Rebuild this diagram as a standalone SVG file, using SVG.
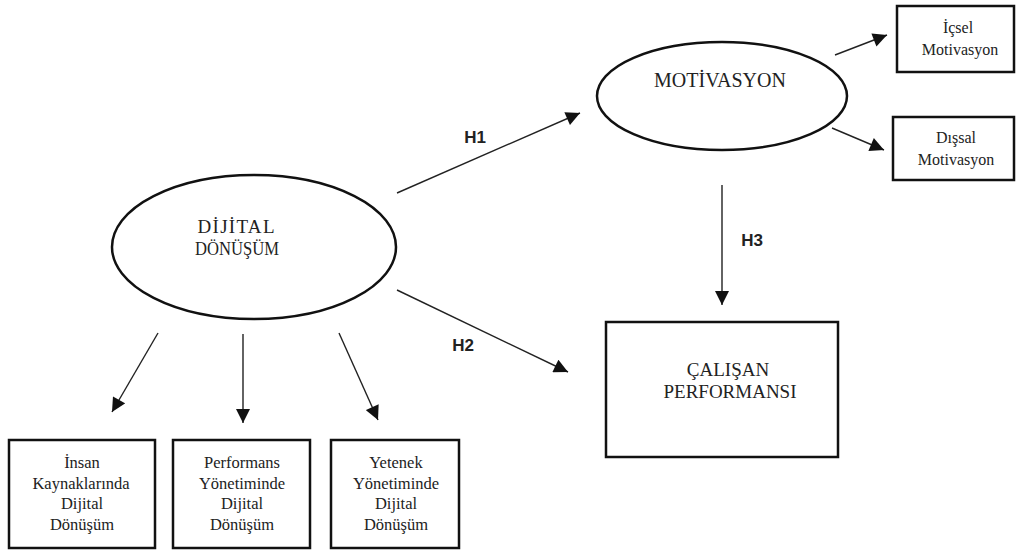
<svg xmlns="http://www.w3.org/2000/svg" width="1019" height="554" viewBox="0 0 1019 554">
<defs>
<marker id="ah" viewBox="0 0 10 10" refX="10" refY="5" markerWidth="16" markerHeight="14" markerUnits="userSpaceOnUse" orient="auto">
<path d="M0,0 L10,5 L0,10 z" fill="#111"/>
</marker>
<style>
.shape{fill:#fff;stroke:#111;stroke-width:2.5}
.t{fill:#222;text-anchor:middle}
.big{font-size:19px}
.sm{font-size:16.5px}
.xs{font-size:16px}
.lab{font-weight:bold;font-size:17px;fill:#222;text-anchor:middle}
.c{stroke:#222;stroke-width:1.4;fill:none;marker-end:url(#ah)}
</style>
</defs>
<rect width="1019" height="554" fill="#fff"/>
<g id="connectors">
<line class="c" x1="397" y1="193" x2="580" y2="113"/>
<line class="c" x1="397" y1="290" x2="568" y2="372"/>
<line class="c" x1="722" y1="185" x2="722" y2="305"/>
<line class="c" x1="835" y1="55" x2="887" y2="35"/>
<line class="c" x1="832" y1="128" x2="884" y2="150"/>
<line class="c" x1="158" y1="333" x2="112" y2="412"/>
<line class="c" x1="243" y1="334" x2="243" y2="423"/>
<line class="c" x1="339" y1="333" x2="378" y2="420"/>
<g font-family="'Liberation Sans', Arial, sans-serif">
<text class="lab" x="475" y="143">H1</text>
<text class="lab" x="463" y="351">H2</text>
<text class="lab" x="752" y="246">H3</text>
</g>
</g>
<g font-family="'Liberation Serif', 'Times New Roman', serif">
<g id="dijital">
<ellipse class="shape" cx="254" cy="247" rx="142" ry="72"/>
<text class="t big" x="236" y="233" textLength="77" lengthAdjust="spacing">DİJİTAL</text>
<text class="t big" x="237" y="255" textLength="84" lengthAdjust="spacingAndGlyphs">DÖNÜŞÜM</text>
</g>
<g id="motivasyon">
<ellipse class="shape" cx="722" cy="96" rx="125" ry="54"/>
<text class="t" font-size="20" x="720" y="87">MOTİVASYON</text>
</g>
<g id="icsel">
<rect class="shape" x="897" y="6" width="117" height="66"/>
<text class="t xs" x="958" y="33">İçsel</text>
<text class="t xs" x="960" y="55">Motivasyon</text>
</g>
<g id="dissal">
<rect class="shape" x="893" y="117" width="121" height="63"/>
<text class="t xs" x="956" y="143">Dışsal</text>
<text class="t xs" x="956" y="165">Motivasyon</text>
</g>
<g id="calisan">
<rect class="shape" x="606" y="322" width="232" height="135"/>
<text class="t big" x="728" y="376">ÇALIŞAN</text>
<text class="t big" x="730" y="398">PERFORMANSI</text>
</g>
<g id="ik">
<rect class="shape" x="9" y="440" width="146" height="108"/>
<text class="t sm" x="82" y="468">İnsan</text>
<text class="t sm" x="81" y="489">Kaynaklarında</text>
<text class="t sm" x="82" y="509">Dijital</text>
<text class="t sm" x="82" y="530">Dönüşüm</text>
</g>
<g id="perf">
<rect class="shape" x="173" y="440" width="137" height="108"/>
<text class="t sm" x="242" y="468">Performans</text>
<text class="t sm" x="242" y="489">Yönetiminde</text>
<text class="t sm" x="242" y="509">Dijital</text>
<text class="t sm" x="242" y="530">Dönüşüm</text>
</g>
<g id="yetenek">
<rect class="shape" x="331" y="440" width="128" height="108"/>
<text class="t sm" x="396" y="468">Yetenek</text>
<text class="t sm" x="396" y="489">Yönetiminde</text>
<text class="t sm" x="396" y="509">Dijital</text>
<text class="t sm" x="396" y="530">Dönüşüm</text>
</g>
</g>
</svg>
